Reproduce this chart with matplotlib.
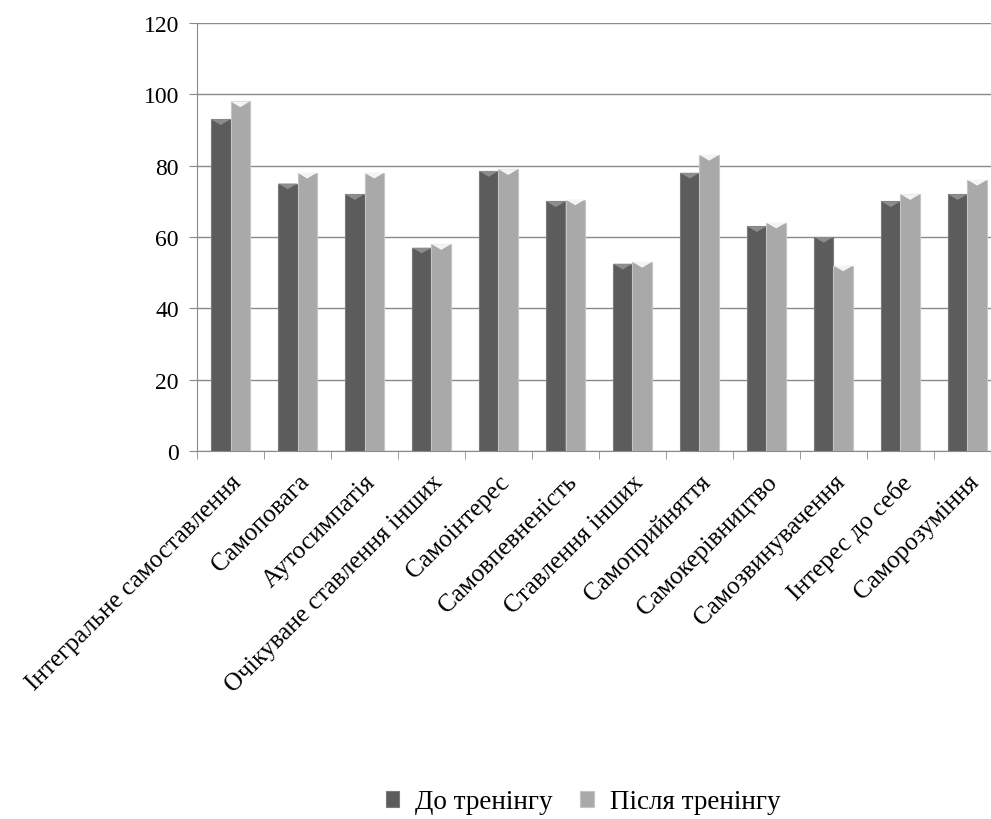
import matplotlib
matplotlib.use('Agg')
import matplotlib.pyplot as plt
import numpy as np
from matplotlib.patches import Polygon

plt.rcParams['font.family'] = ['Liberation Serif', 'DejaVu Serif']

categories = ['Інтегральне самоставлення', 'Самоповага', 'Аутосимпатія',
              'Очікуване ставлення інших', 'Самоінтерес', 'Самовпевненість',
              'Ставлення інших', 'Самоприйняття', 'Самокерівництво',
              'Самозвинувачення', 'Інтерес до себе', 'Саморозуміння']
before = [93, 75, 72, 57, 78.5, 70, 52.5, 78, 63, 60, 70, 72]
after = [98, 78, 78, 58, 79, 70.5, 53, 83, 64, 52, 72, 76]
series_names = ['До тренінгу', 'Після тренінгу']

fig = plt.figure(figsize=(9.91, 8.2), dpi=100)
ax = fig.add_axes([197/991, 1 - 452/820, (1001 - 197)/991, (452 - 24)/820])

x = np.arange(len(categories))
w = 0.29
b1 = ax.bar(x - w/2, before, w, color='#5c5c5c', edgecolor='#7a7a7a', lw=0.8, zorder=3, label=series_names[0])
b2 = ax.bar(x + w/2, after, w, color='#a9a9a9', edgecolor='#c4c4c4', lw=0.8, zorder=3, label=series_names[1])

# bevel (chevron) on top of each bar
for bars, cc in ((b1, '#8c8c8c'), (b2, '#f4f4f4')):
    for p in bars:
        x0 = p.get_x()
        x1 = x0 + p.get_width()
        top = p.get_height()
        tri = Polygon([(x0, top), (x1, top), ((x0 + x1)/2, top - 1.6)],
                      closed=True, fc=cc, ec='none', zorder=4)
        ax.add_patch(tri)

ax.set_xlim(-0.5, len(categories) - 0.5)
ax.set_ylim(0, 120)
ax.set_yticks(range(0, 121, 20))
ax.yaxis.grid(True, color='#8a8a8a', lw=1)
ax.set_axisbelow(True)

for s in ['top', 'right']:
    ax.spines[s].set_visible(False)
for s in ['left', 'bottom']:
    ax.spines[s].set_color('#8a8a8a')

ax.set_xticks(x)
ax.set_xticklabels(categories, rotation=45, ha='right', rotation_mode='anchor', fontsize=18.3)
ax.tick_params(axis='x', which='major', length=0, pad=14)
ax.set_xticks(np.arange(-0.5, len(categories), 1), minor=True)
ax.tick_params(axis='x', which='minor', length=6, color='#8a8a8a')
ax.tick_params(axis='y', length=6, color='#8a8a8a', labelsize=17, pad=7)

fig.legend(handles=[b1, b2], labels=series_names, loc='center', bbox_to_anchor=(583/991, 1 - 803/820),
           ncol=2, frameon=False, fontsize=19.5, handlelength=0.5, handleheight=0.5,
           handletextpad=0.6, columnspacing=1.0)

fig.savefig('out.png', dpi=100)
